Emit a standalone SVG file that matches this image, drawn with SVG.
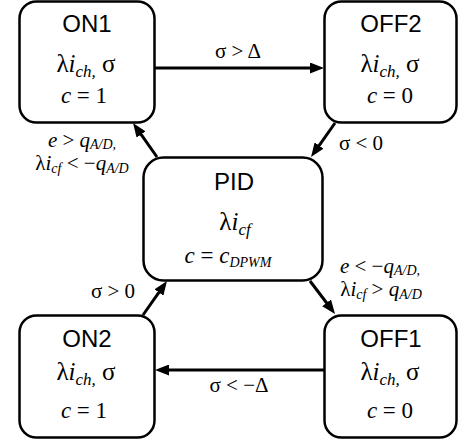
<svg xmlns="http://www.w3.org/2000/svg" width="458" height="441" viewBox="0 0 458 441">
<style>
.box{fill:#fff;stroke:#000;stroke-width:2.5}
.edge{stroke:#000;stroke-width:3;fill:none}
.t{font-family:"Liberation Sans",Arial,sans-serif;font-size:24px;text-anchor:middle}
.m{font-family:"Liberation Serif","Times New Roman",serif;font-size:25px;text-anchor:middle}
.c{font-family:"Liberation Serif","Times New Roman",serif;font-size:23px;text-anchor:middle}
.l{font-family:"Liberation Serif","Times New Roman",serif;font-size:21px;text-anchor:middle}
.i{font-style:italic}
.s{font-style:italic;font-size:14px}
.sm{font-style:italic;font-size:17px}
</style>
<defs>
<marker id="ah" markerUnits="userSpaceOnUse" markerWidth="14" markerHeight="11" refX="4" refY="5.5" orient="auto">
<path d="M0,0 L14,5.5 L0,11 z" fill="#000"/>
</marker>
</defs>
<g id="connectors">
<line class="edge" x1="155" y1="68" x2="314" y2="68" marker-end="url(#ah)"/>
<line class="edge" x1="335" y1="123" x2="316.8" y2="148.8" marker-end="url(#ah)"/>
<line class="edge" x1="157" y1="157" x2="138.8" y2="131.2" marker-end="url(#ah)"/>
<line class="edge" x1="310" y1="281" x2="329" y2="306" marker-end="url(#ah)"/>
<line class="edge" x1="143" y1="315" x2="161.2" y2="289.2" marker-end="url(#ah)"/>
<line class="edge" x1="324" y1="370" x2="165" y2="370" marker-end="url(#ah)"/>
<text class="l" x="238" y="58">σ &gt; Δ</text>
<text class="l" x="361" y="150">σ &lt; 0</text>
<text class="l" x="82" y="147"><tspan class="i">e</tspan> &gt; <tspan class="i">q</tspan><tspan class="s" dy="2">A/D</tspan><tspan class="s">,</tspan></text>
<text class="l" x="82" y="170">λ<tspan class="i">i</tspan><tspan class="s" dy="3">cf</tspan><tspan dy="-3"> &lt; −</tspan><tspan class="i">q</tspan><tspan class="s" dy="3">A/D</tspan></text>
<text class="l" x="380" y="273"><tspan class="i">e</tspan> &lt; −<tspan class="i">q</tspan><tspan class="s" dy="2">A/D</tspan><tspan class="s">,</tspan></text>
<text class="l" x="381" y="296">λ<tspan class="i">i</tspan><tspan class="s" dy="3">cf</tspan><tspan dy="-3"> &gt; </tspan><tspan class="i">q</tspan><tspan class="s" dy="3">A/D</tspan></text>
<text class="l" x="113" y="298">σ &gt; 0</text>
<text class="l" x="239" y="392">σ &lt; −Δ</text>
</g>
<g id="ON1">
<rect class="box" x="19.5" y="1.5" width="135" height="121" rx="17"/>
<text class="t" x="87" y="32">ON1</text>
<text class="m" x="86" y="72">λ<tspan class="i">i</tspan><tspan class="sm" dy="5">ch,</tspan><tspan dy="-5"> σ</tspan></text>
<text class="c" x="84" y="103"><tspan class="i">c</tspan> = 1</text>
</g>
<g id="OFF2">
<rect class="box" x="324.5" y="1.5" width="132" height="121" rx="17"/>
<text class="t" x="391" y="32">OFF2</text>
<text class="m" x="390" y="72">λ<tspan class="i">i</tspan><tspan class="sm" dy="5">ch,</tspan><tspan dy="-5"> σ</tspan></text>
<text class="c" x="390" y="103"><tspan class="i">c</tspan> = 0</text>
</g>
<g id="PID">
<rect class="box" x="143.5" y="157.5" width="179" height="123" rx="20"/>
<text class="t" x="234" y="190">PID</text>
<text class="m" x="235" y="230">λ<tspan class="i">i</tspan><tspan class="sm" dy="5">cf</tspan></text>
<text class="c" x="228" y="263"><tspan class="i">c</tspan> = <tspan class="i">c</tspan><tspan class="s" dy="4">DPWM</tspan></text>
</g>
<g id="ON2">
<rect class="box" x="19.5" y="315.5" width="135" height="122" rx="17"/>
<text class="t" x="87" y="347">ON2</text>
<text class="m" x="86" y="380">λ<tspan class="i">i</tspan><tspan class="sm" dy="5">ch,</tspan><tspan dy="-5"> σ</tspan></text>
<text class="c" x="84" y="418"><tspan class="i">c</tspan> = 1</text>
</g>
<g id="OFF1">
<rect class="box" x="324.5" y="315.5" width="132" height="122" rx="17"/>
<text class="t" x="391" y="347">OFF1</text>
<text class="m" x="390" y="380">λ<tspan class="i">i</tspan><tspan class="sm" dy="5">ch,</tspan><tspan dy="-5"> σ</tspan></text>
<text class="c" x="390" y="418"><tspan class="i">c</tspan> = 0</text>
</g>
</svg>
